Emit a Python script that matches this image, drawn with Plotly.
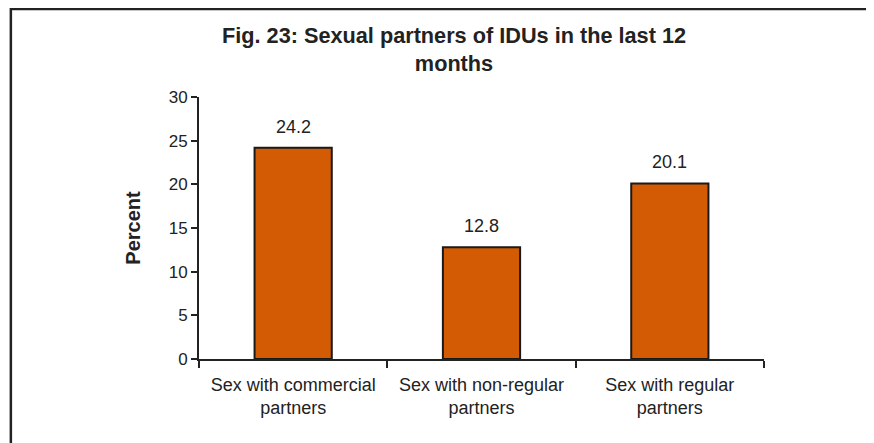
"""Fig. 23: Sexual partners of IDUs in the last 12 months."""
import plotly.graph_objects as go

categories = [
    "Sex with commercial<br>partners",
    "Sex with non-regular<br>partners",
    "Sex with regular<br>partners",
]
percent = [24.2, 12.8, 20.1]
value_labels = ["24.2", "12.8", "20.1"]
y_ticks = [0, 5, 10, 15, 20, 25, 30]

BAR_COLOR = "#D35B03"
INK = "#222"
FONT = "Liberation Sans, Arial, sans-serif"

fig = go.Figure()
fig.add_trace(go.Bar(
    x=categories, y=percent,
    marker=dict(color=BAR_COLOR, line=dict(color="#1a1a1a", width=2)),
    width=0.41,
    hoverinfo="skip",
))

# value labels above bars
for cat, val, lab in zip(categories, percent, value_labels):
    fig.add_annotation(
        x=cat, y=val, text=lab, showarrow=False,
        yanchor="middle", yshift=21,
        font=dict(family=FONT, size=18, color=INK),
    )

# chart title (two lines, centred on the outer frame)
fig.add_annotation(
    xref="paper", yref="paper", x=0.452, y=1.183,
    xanchor="center", yanchor="middle", showarrow=False,
    text="<b>Fig. 23: Sexual partners of IDUs in the last 12<br>months</b>",
    font=dict(family=FONT, size=21.7, color=INK),
)

# outer frame around the whole chart (runs past the right and bottom edges)
fig.add_shape(
    type="rect", xref="paper", yref="paper",
    x0=-0.333, x1=1.4, y0=-0.5, y1=1.336,
    line=dict(color=INK, width=2.5), fillcolor="rgba(0,0,0,0)",
)

fig.update_layout(
    width=874, height=443,
    margin=dict(l=191, r=118, t=89, b=92),
    paper_bgcolor="white", plot_bgcolor="white",
    showlegend=False,
    font=dict(family=FONT, size=17, color=INK),
    xaxis=dict(
        type="category",
        showline=True, linecolor=INK, linewidth=2,
        ticks="outside", tickson="boundaries", ticklen=7,
        tickcolor=INK, tickwidth=2,
        showgrid=False, zeroline=False,
        ticklabelstandoff=8,
        tickfont=dict(family=FONT, size=18, color=INK),
    ),
    yaxis=dict(
        range=[0, 30], tickvals=y_ticks,
        showline=True, linecolor=INK, linewidth=2,
        ticks="outside", ticklen=6, tickcolor=INK, tickwidth=2,
        showgrid=False, zeroline=False,
        tickfont=dict(family=FONT, size=17, color=INK),
        title=dict(text="<b>Percent</b>", standoff=23,
                   font=dict(family=FONT, size=20, color=INK)),
    ),
)

fig.write_html("out.html")
